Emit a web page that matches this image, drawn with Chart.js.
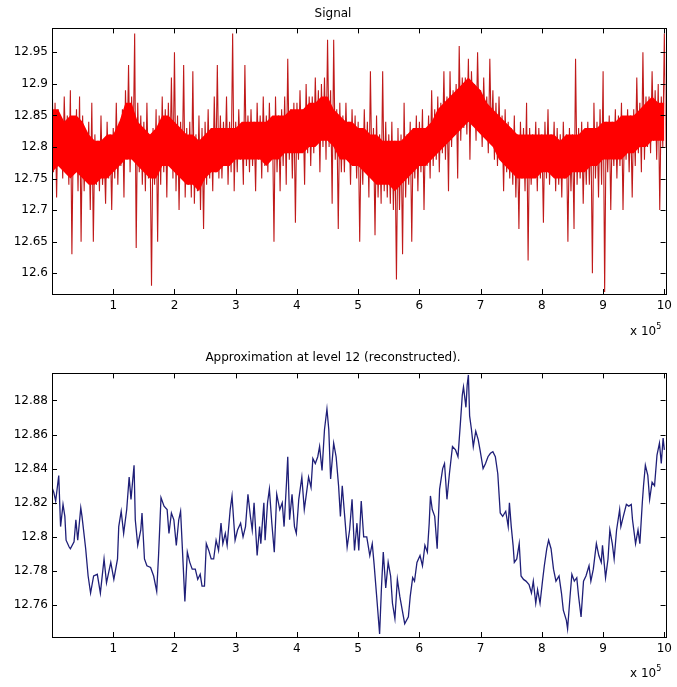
<!DOCTYPE html>
<html>
<head>
<meta charset="utf-8">
<title>Signal and approximation at level 12</title>
<script src="https://cdn.jsdelivr.net/npm/chart.js@4.4.1/dist/chart.umd.min.js"></script>
<style>
    body { margin: 0; background: #fff; }
    .wrap { position: relative; width: 677px; height: 687px; font-family: "DejaVu Sans", Arial, sans-serif; }
    canvas { position: absolute; left: 0; }
    #signalChart { top: 0; }
    #approxChart { top: 330px; }
    .exp { position: absolute; font-size: 12px; line-height: 14px; color: #000; white-space: nowrap; }
    .exp sup { font-size: 8px; position: relative; top: -1px; }
</style>
</head>
<body>
<div class="wrap">
    <canvas id="signalChart" width="677" height="330"></canvas>
    <canvas id="approxChart" width="677" height="357"></canvas>
    <div class="exp" style="left:630px; top:321px;">x 10<sup>5</sup></div>
    <div class="exp" style="left:630px; top:663px;">x 10<sup>5</sup></div>
</div>
<script>
// x axis is in units of 10^5 samples
const xTickValues = [1, 2, 3, 4, 5, 6, 7, 8, 9, 10];
const signalTicks = [12.6, 12.65, 12.7, 12.75, 12.8, 12.85, 12.9, 12.95];
const approxTicks = [12.76, 12.78, 12.8, 12.82, 12.84, 12.86, 12.88];

const signalStep = 0.025;
const signalValues = [
    12.93, 12.76, 12.87, 12.72, 12.86, 12.77, 12.84, 12.75, 12.88, 12.78,
    12.85, 12.74, 12.89, 12.63, 12.84, 12.76, 12.86, 12.73, 12.88, 12.65,
    12.85, 12.73, 12.82, 12.75, 12.84, 12.70, 12.87, 12.65, 12.82, 12.74,
    12.81, 12.73, 12.85, 12.74, 12.80, 12.71, 12.84, 12.75, 12.82, 12.70,
    12.83, 12.75, 12.87, 12.74, 12.84, 12.77, 12.86, 12.72, 12.89, 12.78,
    12.93, 12.76, 12.88, 12.79, 12.98, 12.64, 12.87, 12.76, 12.85, 12.74,
    12.84, 12.73, 12.87, 12.75, 12.82, 12.58, 12.83, 12.74, 12.86, 12.65,
    12.85, 12.74, 12.88, 12.76, 12.86, 12.72, 12.87, 12.77, 12.91, 12.75,
    12.95, 12.73, 12.85, 12.70, 12.84, 12.75, 12.93, 12.72, 12.83, 12.74,
    12.84, 12.72, 12.92, 12.71, 12.82, 12.73, 12.85, 12.70, 12.83, 12.67,
    12.84, 12.74, 12.86, 12.75, 12.83, 12.73, 12.88, 12.76, 12.93, 12.75,
    12.85, 12.75, 12.84, 12.77, 12.88, 12.74, 12.84, 12.76, 12.98, 12.73,
    12.84, 12.76, 12.86, 12.78, 12.83, 12.74, 12.93, 12.77, 12.85, 12.76,
    12.86, 12.77, 12.84, 12.73, 12.87, 12.78, 12.85, 12.75, 12.88, 12.77,
    12.85, 12.76, 12.87, 12.78, 12.84, 12.65, 12.88, 12.76, 12.85, 12.73,
    12.86, 12.77, 12.88, 12.74, 12.94, 12.78, 12.86, 12.75, 12.87, 12.68,
    12.87, 12.78, 12.89, 12.80, 12.86, 12.74, 12.90, 12.79, 12.88, 12.77,
    12.88, 12.79, 12.91, 12.81, 12.89, 12.76, 12.90, 12.80, 12.91, 12.78,
    12.97, 12.80, 12.89, 12.71, 12.97, 12.78, 12.86, 12.67, 12.87, 12.76,
    12.85, 12.76, 12.87, 12.78, 12.84, 12.74, 12.86, 12.77, 12.85, 12.75,
    12.84, 12.65, 12.83, 12.74, 12.86, 12.76, 12.84, 12.72, 12.92, 12.75,
    12.83, 12.66, 12.85, 12.72, 12.82, 12.71, 12.92, 12.73, 12.84, 12.72,
    12.82, 12.71, 12.84, 12.70, 12.81, 12.59, 12.83, 12.70, 12.82, 12.63,
    12.87, 12.72, 12.82, 12.74, 12.84, 12.65, 12.83, 12.75, 12.85, 12.73,
    12.84, 12.76, 12.86, 12.70, 12.83, 12.77, 12.85, 12.75, 12.89, 12.77,
    12.86, 12.78, 12.88, 12.76, 12.87, 12.79, 12.92, 12.78, 12.88, 12.73,
    12.92, 12.80, 12.89, 12.82, 12.90, 12.75, 12.96, 12.81, 12.91, 12.83,
    12.91, 12.82, 12.94, 12.78, 12.92, 12.84, 12.90, 12.81, 12.95, 12.83,
    12.89, 12.80, 12.91, 12.82, 12.88, 12.79, 12.94, 12.81, 12.89, 12.78,
    12.87, 12.77, 12.88, 12.79, 12.85, 12.73, 12.86, 12.76, 12.84, 12.75,
    12.83, 12.74, 12.85, 12.72, 12.82, 12.67, 12.84, 12.75, 12.83, 12.73,
    12.87, 12.62, 12.83, 12.74, 12.82, 12.76, 12.84, 12.73, 12.83, 12.75,
    12.82, 12.68, 12.84, 12.75, 12.86, 12.74, 12.82, 12.76, 12.84, 12.73,
    12.83, 12.74, 12.82, 12.72, 12.84, 12.75, 12.82, 12.65, 12.83, 12.73,
    12.82, 12.67, 12.94, 12.74, 12.83, 12.75, 12.84, 12.71, 12.82, 12.74,
    12.84, 12.74, 12.83, 12.60, 12.87, 12.75, 12.84, 12.72, 12.86, 12.74,
    12.92, 12.57, 12.84, 12.76, 12.85, 12.70, 12.84, 12.77, 12.86, 12.75,
    12.85, 12.77, 12.87, 12.70, 12.84, 12.78, 12.86, 12.76, 12.85, 12.72,
    12.86, 12.77, 12.91, 12.79, 12.87, 12.76, 12.95, 12.78, 12.88, 12.80,
    12.88, 12.79, 12.92, 12.81, 12.89, 12.78, 12.90, 12.70, 12.88, 12.80,
    12.98, 12.80
];

// the dense solid core of the signal band, upper and lower edge every 0.1
const coreStep = 0.1;
const coreHigh = [
    12.86, 12.86, 12.84, 12.85, 12.85, 12.84, 12.82, 12.81, 12.81, 12.82,
    12.82, 12.84, 12.87, 12.87, 12.84, 12.83, 12.82, 12.83, 12.85, 12.85,
    12.84, 12.83, 12.82, 12.82, 12.81, 12.82, 12.83, 12.83, 12.83, 12.83,
    12.83, 12.84, 12.84, 12.84, 12.84, 12.84, 12.85, 12.85, 12.85, 12.86,
    12.86, 12.86, 12.87, 12.87, 12.88, 12.88, 12.86, 12.85, 12.84, 12.84,
    12.83, 12.83, 12.82, 12.82, 12.81, 12.81, 12.81, 12.81, 12.82, 12.83,
    12.83, 12.83, 12.84, 12.86, 12.87, 12.88, 12.89, 12.90, 12.91, 12.90,
    12.89, 12.87, 12.86, 12.85, 12.84, 12.83, 12.82, 12.82, 12.82, 12.82,
    12.82, 12.82, 12.82, 12.81, 12.82, 12.82, 12.82, 12.83, 12.83, 12.83,
    12.84, 12.84, 12.84, 12.85, 12.85, 12.85, 12.86, 12.87, 12.88, 12.87,
    12.87
];
const coreLow = [
    12.76, 12.77, 12.76, 12.75, 12.76, 12.75, 12.74, 12.74, 12.75, 12.75,
    12.76, 12.77, 12.78, 12.78, 12.77, 12.76, 12.75, 12.75, 12.77, 12.77,
    12.76, 12.75, 12.74, 12.74, 12.73, 12.75, 12.76, 12.76, 12.77, 12.77,
    12.78, 12.78, 12.78, 12.78, 12.78, 12.77, 12.78, 12.78, 12.79, 12.79,
    12.79, 12.79, 12.80, 12.80, 12.81, 12.81, 12.80, 12.78, 12.78, 12.77,
    12.77, 12.76, 12.75, 12.74, 12.74, 12.74, 12.73, 12.74, 12.75, 12.76,
    12.77, 12.77, 12.78, 12.79, 12.80, 12.81, 12.82, 12.83, 12.84, 12.83,
    12.82, 12.81, 12.80, 12.78, 12.77, 12.76, 12.75, 12.75, 12.75, 12.75,
    12.76, 12.76, 12.75, 12.75, 12.75, 12.76, 12.76, 12.76, 12.77, 12.77,
    12.78, 12.78, 12.78, 12.78, 12.79, 12.79, 12.80, 12.80, 12.81, 12.81,
    12.81
];

// level 12 approximation, traced point by point
const approxX = [
    0.00, 0.03, 0.06, 0.11, 0.14, 0.18, 0.21, 0.23, 0.28, 0.30,
    0.36, 0.39, 0.42, 0.47, 0.49, 0.55, 0.59, 0.63, 0.68, 0.74,
    0.79, 0.85, 0.89, 0.96, 1.01, 1.07, 1.09, 1.13, 1.17, 1.22,
    1.26, 1.29, 1.34, 1.36, 1.40, 1.45, 1.47, 1.51, 1.55, 1.61,
    1.66, 1.71, 1.74, 1.78, 1.83, 1.88, 1.91, 1.95, 1.99, 2.03,
    2.07, 2.10, 2.14, 2.17, 2.21, 2.25, 2.29, 2.34, 2.38, 2.42,
    2.45, 2.49, 2.52, 2.56, 2.60, 2.64, 2.68, 2.72, 2.76, 2.79,
    2.83, 2.86, 2.91, 2.94, 2.97, 2.99, 3.03, 3.08, 3.12, 3.16,
    3.20, 3.24, 3.27, 3.30, 3.35, 3.39, 3.41, 3.46, 3.48, 3.52,
    3.55, 3.59, 3.63, 3.67, 3.72, 3.76, 3.79, 3.83, 3.85, 3.88,
    3.92, 3.96, 3.99, 4.03, 4.08, 4.12, 4.15, 4.19, 4.23, 4.26,
    4.30, 4.34, 4.37, 4.41, 4.45, 4.49, 4.52,
    4.55, 4.60, 4.64, 4.68, 4.71, 4.74, 4.78, 4.82, 4.86, 4.90,
    4.94, 4.98, 5.01, 5.05,
    5.09, 5.14, 5.19, 5.23, 5.26, 5.30, 5.35, 5.38, 5.41, 5.45,
    5.49, 5.53, 5.56, 5.60, 5.64, 5.68, 5.72, 5.76, 5.82, 5.85,
    5.89, 5.92, 5.96, 6.01, 6.05, 6.09, 6.13, 6.16, 6.18, 6.21,
    6.25, 6.29, 6.33, 6.38, 6.41, 6.45, 6.49, 6.54, 6.59, 6.63,
    6.67, 6.70, 6.72, 6.76, 6.78, 6.80, 6.82, 6.85, 6.88, 6.92,
    6.96, 6.99, 7.04, 7.08, 7.12, 7.16, 7.20, 7.24, 7.28, 7.32,
    7.36, 7.41, 7.45, 7.47, 7.50, 7.53, 7.55, 7.59, 7.63, 7.66,
    7.70, 7.74, 7.79, 7.83, 7.86, 7.90, 7.93, 7.97, 8.01, 8.04,
    8.08, 8.11, 8.15, 8.19, 8.23, 8.28, 8.32, 8.35, 8.40, 8.42,
    8.46, 8.49, 8.53, 8.57, 8.60, 8.64, 8.68, 8.72, 8.77, 8.80,
    8.84, 8.89, 8.93, 8.97, 8.99, 9.04, 9.08, 9.11, 9.15, 9.18,
    9.22, 9.27, 9.29, 9.33, 9.38, 9.42, 9.46, 9.48, 9.53, 9.57,
    9.60, 9.64, 9.66, 9.69, 9.73, 9.76, 9.80, 9.84, 9.88, 9.92,
    9.95, 9.98, 10.00
];
const approxY = [
    12.829, 12.826, 12.821, 12.836, 12.806, 12.819, 12.812, 12.798, 12.794, 12.793,
    12.797, 12.810, 12.798, 12.817, 12.812, 12.793, 12.777, 12.767, 12.777, 12.778,
    12.767, 12.787, 12.773, 12.785, 12.775, 12.787, 12.806, 12.815, 12.802, 12.816,
    12.835, 12.822, 12.842, 12.810, 12.795, 12.804, 12.814, 12.787, 12.783, 12.782,
    12.777, 12.768, 12.789, 12.823, 12.818, 12.816, 12.802, 12.814, 12.810, 12.795,
    12.810, 12.815, 12.785, 12.762, 12.791, 12.785, 12.781, 12.781, 12.775, 12.778,
    12.771, 12.771, 12.796, 12.792, 12.787, 12.787, 12.798, 12.792, 12.808, 12.796,
    12.802, 12.795, 12.816, 12.824, 12.808, 12.798, 12.804, 12.808, 12.800, 12.806,
    12.825, 12.812, 12.804, 12.820, 12.789, 12.806, 12.796, 12.820, 12.798, 12.820,
    12.828, 12.808, 12.791, 12.825, 12.816, 12.820, 12.806, 12.832, 12.847, 12.810,
    12.825, 12.806, 12.802, 12.822, 12.835, 12.816, 12.824, 12.835, 12.829, 12.846,
    12.843, 12.847, 12.853, 12.839, 12.863, 12.875, 12.863,
    12.834, 12.855, 12.847, 12.830, 12.812, 12.830, 12.812, 12.794, 12.804, 12.822,
    12.792, 12.808, 12.792, 12.821,
    12.800, 12.800, 12.789, 12.796, 12.784, 12.766, 12.743, 12.770, 12.791, 12.770,
    12.785, 12.777, 12.761, 12.752, 12.775, 12.765, 12.757, 12.749, 12.753, 12.765,
    12.776, 12.774, 12.785, 12.789, 12.783, 12.795, 12.791, 12.808, 12.824, 12.816,
    12.812, 12.793, 12.828, 12.840, 12.843, 12.822, 12.837, 12.853, 12.851, 12.847,
    12.867, 12.883, 12.888, 12.876, 12.889, 12.895, 12.871, 12.863, 12.853, 12.862,
    12.857, 12.851, 12.840, 12.843, 12.847, 12.849, 12.850, 12.847, 12.837, 12.814,
    12.812, 12.815, 12.806, 12.820, 12.806, 12.795, 12.785, 12.787, 12.796, 12.777,
    12.775, 12.774, 12.772, 12.767, 12.774, 12.761, 12.769, 12.761, 12.774, 12.783,
    12.793, 12.798, 12.793, 12.781, 12.774, 12.777, 12.767, 12.757, 12.751, 12.746,
    12.765, 12.778, 12.774, 12.776, 12.765, 12.753, 12.774, 12.777, 12.783, 12.774,
    12.781, 12.796, 12.789, 12.785, 12.795, 12.776, 12.787, 12.804, 12.796, 12.787,
    12.804, 12.816, 12.806, 12.812, 12.819, 12.818, 12.819, 12.810, 12.796, 12.804,
    12.796, 12.820, 12.830, 12.842, 12.836, 12.822, 12.832, 12.830, 12.848, 12.855,
    12.843, 12.858, 12.851
];

// box round the plot area with inward tick marks on all four sides (matlab look)
const matlabFrame = {
    id: 'matlabFrame',
    afterDatasetsDraw(chart) {
        const { ctx, chartArea: a, scales } = chart;
        const len = 5;
        ctx.save();
        ctx.strokeStyle = '#000';
        ctx.lineWidth = 1;
        ctx.beginPath();
        scales.x.ticks.forEach((t, i) => {
            const px = Math.round(scales.x.getPixelForTick(i)) + 0.5;
            ctx.moveTo(px, a.bottom); ctx.lineTo(px, a.bottom - len);
            ctx.moveTo(px, a.top); ctx.lineTo(px, a.top + len);
        });
        scales.y.ticks.forEach((t, i) => {
            const py = Math.round(scales.y.getPixelForTick(i)) + 0.5;
            ctx.moveTo(a.left, py); ctx.lineTo(a.left + len, py);
            ctx.moveTo(a.right, py); ctx.lineTo(a.right - len, py);
        });
        ctx.stroke();
        ctx.strokeRect(Math.round(a.left) + 0.5, Math.round(a.top) + 0.5,
            Math.round(a.right - a.left), Math.round(a.bottom - a.top));
        ctx.restore();
    }
};

const fontFamily = '"DejaVu Sans", Arial, sans-serif';
const tickFont = { family: fontFamily, size: 12 };

function buildScales(yMin, yMax, yTicks, xHeight) {
    return {
        x: {
            type: 'linear',
            min: 0,
            max: 10.02,
            grid: { display: false, drawTicks: false },
            border: { display: false },
            afterBuildTicks: s => { s.ticks = xTickValues.map(v => ({ value: v })); },
            afterFit: s => { s.height = xHeight; },
            ticks: { color: '#000', font: tickFont, padding: 5, maxRotation: 0, autoSkip: false,
                     callback: v => String(v) }
        },
        y: {
            type: 'linear',
            min: yMin,
            max: yMax,
            grid: { display: false, drawTicks: false },
            border: { display: false },
            afterBuildTicks: s => { s.ticks = yTicks.map(v => ({ value: v })); },
            afterFit: s => { s.width = 52; },
            ticks: { color: '#000', font: tickFont, padding: 4, autoSkip: false,
                     callback: v => String(parseFloat(v.toFixed(3))) }
        }
    };
}

function titleOpts(text, top, bottom) {
    return {
        display: true,
        text: text,
        color: '#000',
        font: { family: fontFamily, size: 12, weight: 'normal' },
        padding: { top: top, bottom: bottom }
    };
}

new Chart(document.getElementById('signalChart'), {
    type: 'line',
    data: {
        datasets: [{
            data: signalValues.map((v, i) => ({ x: i * signalStep, y: v })),
            borderColor: '#c01a1a',
            borderWidth: 1.1,
            pointRadius: 0,
            tension: 0,
            order: 2
        }, {
            data: coreLow.map((v, i) => ({ x: i * coreStep, y: v })),
            borderWidth: 0,
            borderColor: 'rgba(0,0,0,0)',
            pointRadius: 0,
            fill: false,
            order: 1
        }, {
            data: coreHigh.map((v, i) => ({ x: i * coreStep, y: v })),
            borderWidth: 0,
            borderColor: 'rgba(0,0,0,0)',
            backgroundColor: '#ff0000',
            pointRadius: 0,
            fill: '-1',
            order: 1
        }]
    },
    options: {
        responsive: false,
        animation: false,
        devicePixelRatio: 1,
        layout: { padding: { left: 0, right: 11, top: 0, bottom: 0 } },
        scales: buildScales(12.567, 12.988, signalTicks, 36),
        plugins: {
            legend: { display: false },
            tooltip: { enabled: false },
            title: titleOpts('Signal', 7, 7)
        }
    },
    plugins: [matlabFrame]
});

new Chart(document.getElementById('approxChart'), {
    type: 'line',
    data: {
        datasets: [{
            data: approxX.map((x, i) => ({ x: x, y: approxY[i] })),
            borderColor: '#1f1f78',
            borderWidth: 1.3,
            pointRadius: 0,
            tension: 0
        }]
    },
    options: {
        responsive: false,
        animation: false,
        devicePixelRatio: 1,
        layout: { padding: { left: 0, right: 11, top: 0, bottom: 0 } },
        scales: buildScales(12.7412, 12.8959, approxTicks, 50),
        plugins: {
            legend: { display: false },
            tooltip: { enabled: false },
            title: titleOpts('Approximation at level 12 (reconstructed).', 21, 8)
        }
    },
    plugins: [matlabFrame]
});
</script>
</body>
</html>
